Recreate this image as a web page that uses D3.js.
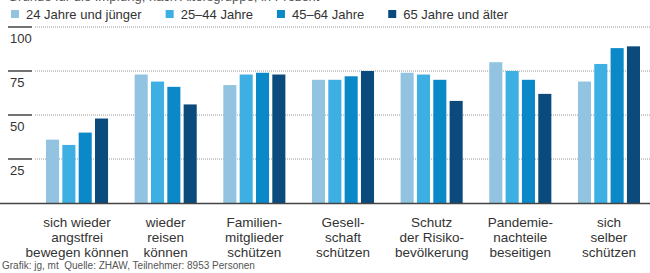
<!DOCTYPE html>
<html>
<head>
<meta charset="utf-8">
<script src="https://cdn.jsdelivr.net/npm/d3@7/dist/d3.min.js"></script>
<style>
  body { margin: 0; background: #fff; }
  svg { display: block; font-family: "Liberation Sans", Arial, sans-serif; }
</style>
</head>
<body>
<div class="myChart"></div>
<script>
// Data
var categories = [
  ["sich wieder", "angstfrei", "bewegen können"],
  ["wieder", "reisen", "können"],
  ["Familien-", "mitglieder", "schützen"],
  ["Gesell-", "schaft", "schützen"],
  ["Schutz", "der Risiko-", "bevölkerung"],
  ["Pandemie-", "nachteile", "beseitigen"],
  ["sich", "selber", "schützen"]
];
var seriesNames = ["24 Jahre und jünger", "25–44 Jahre", "45–64 Jahre", "65 Jahre und älter"];
var age24 = [36, 73, 67, 70, 74, 80, 69];
var age25 = [33, 69, 73, 70, 73, 75, 79];
var age45 = [40, 66, 74, 72, 70, 70, 88];
var age65 = [48, 56, 73, 75, 58, 62, 89];
var yTicks = [25, 50, 75, 100];
var colors = ["#92c3e0", "#3eafe2", "#0a88c8", "#0a4a7c"];

var series = [age24, age25, age45, age65];

// Canvas size
var width = 650;
var height = 273;
var baseY = 203;
var topY = 27;

var svg = d3.select(".myChart").append("svg")
  .attr("width", width)
  .attr("height", height);

// Scales
var yScale = d3.scaleLinear().domain([0, 100]).range([baseY, topY]);
var xScale = d3.scaleBand()
  .domain(d3.range(categories.length))
  .range([46, 640])
  .paddingInner(0.3)
  .paddingOuter(0);
var xInner = d3.scaleBand()
  .domain(d3.range(series.length))
  .range([0, xScale.bandwidth()])
  .paddingInner(0.2);

// Subtitle, only its lower edge shows at the top (as in the source)
svg.append("text")
  .attr("x", 8)
  .attr("y", 1)
  .style("font-size", "13px")
  .style("fill", "#555")
  .text("Gründe für die Impfung, nach Altersgruppe, in Prozent");

// Legend
var legendX = 11;
seriesNames.forEach(function(name, i) {
  var g = svg.append("g").attr("transform", "translate(" + legendX + ",0)");
  g.append("rect")
    .attr("x", 0).attr("y", 10)
    .attr("width", 8).attr("height", 8)
    .style("fill", colors[i]);
  var t = g.append("text")
    .attr("x", 15).attr("y", 19)
    .style("font-size", "13px")
    .style("fill", "#333")
    .text(name);
  legendX += 15 + t.node().getComputedTextLength() + 24;
});

// Grid + ticks
var grid = svg.append("g").selectAll("g")
  .data(yTicks)
  .enter().append("g")
  .attr("transform", function(d) { return "translate(0," + yScale(d) + ")"; });

grid.append("line")
  .attr("x1", 35).attr("x2", width)
  .style("stroke", "#999")
  .style("stroke-width", 1)
  .style("stroke-dasharray", "1,1");

grid.append("line")
  .attr("x1", 8).attr("x2", 32)
  .style("stroke", "#444")
  .style("stroke-width", 1.5);

grid.append("text")
  .attr("x", 10).attr("y", 16)
  .style("font-size", "13px")
  .style("fill", "#333")
  .text(function(d) { return d; });

// Bars
var groups = svg.append("g").selectAll("g")
  .data(categories)
  .enter().append("g")
  .attr("transform", function(d, i) { return "translate(" + xScale(i) + ",0)"; });

groups.selectAll("rect")
  .data(function(d, i) { return series.map(function(s) { return s[i]; }); })
  .enter().append("rect")
  .attr("x", function(d, j) { return xInner(j); })
  .attr("y", function(d) { return yScale(d); })
  .attr("width", xInner.bandwidth())
  .attr("height", function(d) { return baseY - yScale(d); })
  .style("fill", function(d, j) { return colors[j]; });

// Baseline
svg.append("line")
  .attr("x1", 0).attr("x2", width)
  .attr("y1", baseY + 0.5).attr("y2", baseY + 0.5)
  .style("stroke", "#444")
  .style("stroke-width", 1.5);

// Category labels
groups.append("text")
  .attr("text-anchor", "middle")
  .style("font-size", "13.5px")
  .style("fill", "#333")
  .selectAll("tspan")
  .data(function(d) { return d; })
  .enter().append("tspan")
  .attr("x", xScale.bandwidth() / 2)
  .attr("y", function(d, k) { return 227 + k * 15; })
  .text(function(d) { return d; });

// Footer
svg.append("text")
  .attr("x", 2).attr("y", 269)
  .style("font-size", "10px")
  .style("fill", "#555")
  .style("white-space", "pre")
  .text("Grafik: jg, mt  Quelle: ZHAW, Teilnehmer: 8953 Personen");
</script>
</body>
</html>
